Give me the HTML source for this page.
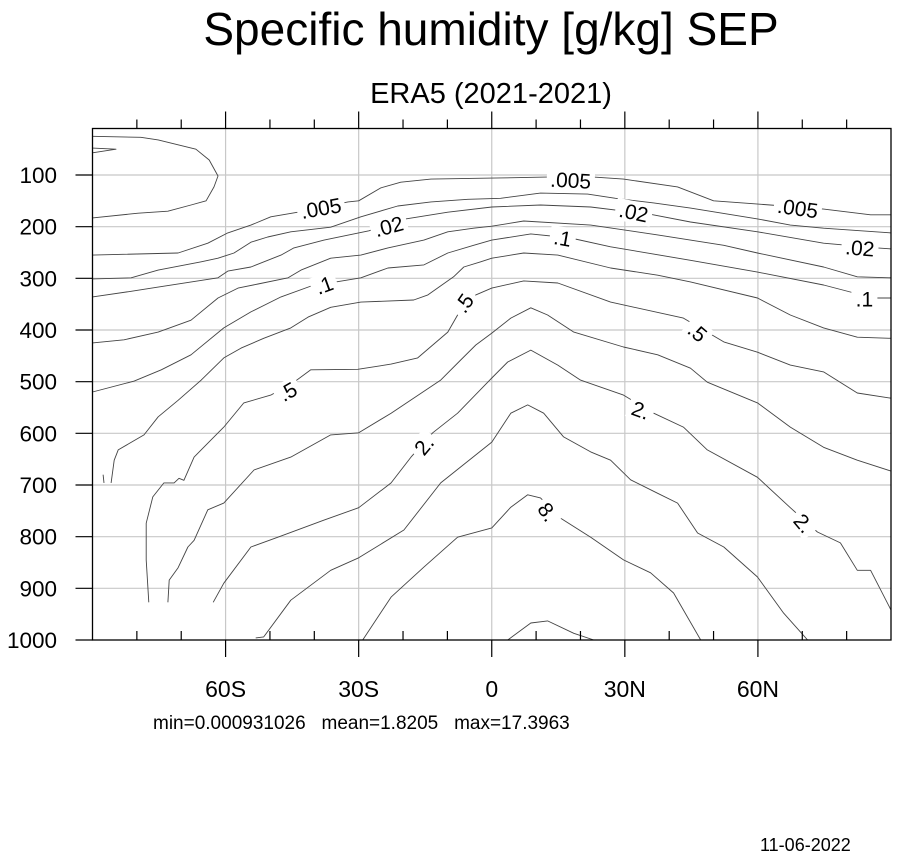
<!DOCTYPE html>
<html><head><meta charset="utf-8"><style>
html,body{margin:0;padding:0;background:#fff;}
svg{display:block;font-family:"Liberation Sans",Arial,sans-serif;}
</style></head><body>
<svg id="chart" width="901" height="861" viewBox="0 0 901 861" xmlns="http://www.w3.org/2000/svg">
<rect x="0" y="0" width="901" height="861" fill="#fff"/>
<text x="491" y="45" font-size="46" text-anchor="middle" fill="#000">Specific humidity [g/kg] SEP</text>
<text x="491" y="103" font-size="29" text-anchor="middle" fill="#000">ERA5 (2021-2021)</text>
<g id="grid"></g>
<g id="contours"></g>
<g id="labels"></g>
<g id="axes"></g>
<text x="153" y="729" font-size="19" fill="#000" style="white-space:pre" xml:space="preserve">min=0.000931026   mean=1.8205   max=17.3963</text>
<text x="760" y="851" font-size="18" fill="#000">11-06-2022</text>
</svg>
<script>
// ---- data (lat in degrees, pressure in hPa) ----
const xTickVals = [-60, -30, 0, 30, 60];
const xTickLabels = ["60S", "30S", "0", "30N", "60N"];
const yTickVals = [100, 200, 300, 400, 500, 600, 700, 800, 900, 1000];
const yTickLabels = ["100", "200", "300", "400", "500", "600", "700", "800", "900", "1000"];

const cClosedLat = [-90,-79.1,-75.2,-66.7,-63.7,-61.7,-62.6,-64.4,-67.8,-73,-79.7,-90];
const cClosedP   = [25,27,32,50,71,102,123,150,158,170,174,183];
const cSpikeLat = [-90,-84.7,-90];
const cSpikeP   = [48,50,57];
const cStubLat = [-87.6,-87.4];
const cStubP   = [680,696];

const c005Lat = [-90,-70.7,-64,-59.5,-54.3,-49.8,-43.7,-32.4,-30,-25,-20.5,-13.7,0,12.2,23,29.7,41.9,50,62.8,74.8,85.4,90];
const c005P   = [255,251,232,212,197,181,172,152,150,125,114,108,106,104,104,108,123,150,158,166,177,177];

const c01Lat = [-90,-81.3,-75.2,-65.5,-61.7,-58.1,-54.3,-50.5,-45.3,-36.3,-29.5,-21.2,-13.7,-5.4,2,11,21.6,27.9,36.5,44.8,59.9,67.3,74.8,90];
const c01P   = [301,299,284,268,261,251,230,220,210,201,181,160,152,147,145,135,137,145,154,164,185,197,203,212];

const c02Lat = [-90,-81.3,-75.2,-61.7,-59.5,-54.3,-47.5,-44.6,-37.8,-27.7,-19.4,-9.9,0,11,22.3,35.8,44.8,59.9,74.8,86.9,90];
const c02P   = [336,325,317,299,286,278,255,241,226,208,185,172,162,158,162,176,191,210,232,241,243];

const c05Lat = [-90,-82.9,-75.2,-67.8,-61.7,-57.2,-52.7,-45.9,-43,-36.3,-29.5,-23.4,-15.3,-9.9,-4.1,0,7.2,22.3,37.4,52.3,59.9,74.8,82.4,90];
const c05P   = [425,419,404,381,338,319,311,299,284,261,255,241,226,210,203,199,189,197,216,236,251,278,297,299];

const c1Lat = [-90,-80.6,-74.5,-67.8,-60.4,-54.3,-47.5,-40.1,-35.1,-29.5,-23.4,-15.3,-9.9,-4.1,0,8.8,17.8,26.8,44.8,59.9,74.8,86,90];
const c1P   = [520,499,477,448,396,365,336,313,307,299,280,274,251,236,226,214,222,239,265,288,313,338,338];

const c2Lat = [-85.8,-85.1,-84.2,-78.4,-75.2,-70.7,-65.5,-60.4,-56.5,-51.4,-45.3,-41.4,-36.3,-29.5,-17.6,-14.4,-8.6,-6.3,-2.5,0,7.2,14.9,26.8,37.4,44.8,59.9,67.3,74.8,82.4,90];
const c2P   = [696,652,632,603,568,536,497,454,435,416,396,375,356,346,342,332,297,278,268,261,251,255,280,294,307,338,371,396,414,416];

const c5Lat = [-77.3,-77.9,-77.9,-76.4,-73.9,-71.6,-70.5,-69.4,-67.1,-63.3,-60.4,-55.9,-49.8,-44.6,-40.8,-30.2,-22.7,-16.7,-9.9,-7.7,-3.6,0,7.2,14.9,26.8,43.2,52.3,59.9,67.3,74.8,82.4,90];
const c5P   = [927,845,774,723,696,696,687,691,646,613,588,541,526,501,477,476,466,454,404,371,332,319,305,309,346,377,423,443,468,481,522,532];

const c10Lat = [-73,-72.7,-70.7,-68.5,-67.1,-64,-60.4,-53.6,-45.3,-36.3,-30,-22.7,-11.5,-7,-3.6,0,4.3,8.8,12.6,18.5,29.7,37.4,44.8,48.6,59.9,67.3,74.8,82.4,90];
const c10P   = [927,884,860,820,807,748,735,671,646,603,599,561,497,458,429,406,377,357,371,404,433,448,474,501,541,588,627,652,673];

const c20Lat = [-62.8,-60.4,-54.3,-48.2,-37.8,-30,-22.7,-18.2,-13.3,-7.7,0,3.6,8.8,14.9,20,29.7,36.5,43.2,48.6,59.9,67.3,73.4,78.6,82.4,85.4,90];
const c20P   = [927,890,820,801,768,744,696,646,599,561,493,462,439,468,497,526,561,588,632,685,744,791,812,865,865,942];

const c40Lat = [-53.2,-51.4,-45.3,-36.3,-30,-19.8,-11.5,0,4.3,8.1,11.7,16.2,22.3,26.8,31.3,37.4,41.9,46.4,52.3,59.9,65.8,71.2];
const c40P   = [996,994,923,865,841,787,696,617,561,545,561,607,636,652,690,716,735,793,820,878,948,1000];

const c80Lat = [-29.1,-22.7,-15.3,-7.7,0,4.3,8.1,11,15.5,22.3,29.7,35.8,41,47.1];
const c80P   = [1000,917,859,801,783,743,719,725,764,801,845,870,909,1000];

const c160Lat = [3.6,8.8,12.6,18.5,23];
const c160P   = [1000,967,963,987,1000];

const labelText = [".005",".02",".1",".5",".5","2.",".005",".02",".1",".005",".02",".1",".5","2.","8.","2."];
const labelLat  = [-38.5,-23.2,-37.8,-46,-6.3,-15.3,17.8,32,16,69,83,84,46.4,33.6,12.6,70.3];
const labelP    = [164,199,313,519,348,623,110,172,222,164,241,340,404,555,752,774];
const labelAngle= [-10,-15,-20,-30,-55,-50,3,12,10,8,5,0,40,20,55,50];

// ---- axes functions ----
const X0 = 92.5, X1 = 891, Y0 = 128.5, Y1 = 640;
const LAT0 = -90, LAT1 = 90, P0 = 10, P1 = 1000;
function xScale(lat){ return X0 + (lat - LAT0) / (LAT1 - LAT0) * (X1 - X0); }
function yScale(p){ return Y0 + (p - P0) / (P1 - P0) * (Y1 - Y0); }

const NS = "http://www.w3.org/2000/svg";
function mk(tag, attrs, parent){
  const e = document.createElementNS(NS, tag);
  for (const k in attrs) e.setAttribute(k, attrs[k]);
  parent.appendChild(e);
  return e;
}

// grid
const grid = document.getElementById("grid");
xTickVals.forEach(v => {
  const l = mk("line", {x1: xScale(v), x2: xScale(v), y1: Y0, y2: Y1, stroke: "#c8c8c8", "stroke-width": 1.2}, grid);
  
  
});
yTickVals.forEach(v => {
  if (v >= 1000) return;
  const l = mk("line", {x1: X0, x2: X1, y1: yScale(v), y2: yScale(v), stroke: "#c8c8c8", "stroke-width": 1.2}, grid);
  
  
});

// contours
const contours = document.getElementById("contours");
const series = [
  ["contour-closed-min", cClosedLat, cClosedP],
  ["contour-spike", cSpikeLat, cSpikeP],
  ["contour-stub", cStubLat, cStubP],
  ["contour-0.005", c005Lat, c005P],
  ["contour-0.01", c01Lat, c01P],
  ["contour-0.02", c02Lat, c02P],
  ["contour-0.05", c05Lat, c05P],
  ["contour-0.1", c1Lat, c1P],
  ["contour-0.2", c2Lat, c2P],
  ["contour-0.5", c5Lat, c5P],
  ["contour-1", c10Lat, c10P],
  ["contour-2", c20Lat, c20P],
  ["contour-4", c40Lat, c40P],
  ["contour-8", c80Lat, c80P],
  ["contour-16", c160Lat, c160P]
];
series.forEach(s => {
  const lat = s[1], p = s[2];
  const pts = lat.map((v, i) => xScale(v).toFixed(1) + "," + yScale(p[i]).toFixed(1)).join(" ");
  const pl = mk("polyline", {points: pts, fill: "none", stroke: "#444", "stroke-width": 0.9, "stroke-linejoin": "round"}, contours);
  
  
});

// contour labels
const labels = document.getElementById("labels");
labelText.forEach((t, i) => {
  const x = xScale(labelLat[i]), y = yScale(labelP[i]);
  const g = mk("g", {transform: "translate(" + x.toFixed(1) + "," + y.toFixed(1) + ") rotate(" + labelAngle[i] + ")"}, labels);
  
  
  const w = t.length * 11 + 4;
  const r = mk("rect", {x: -w / 2, y: -11, width: w, height: 22, fill: "#fff"}, g);
  
  
  const tx = mk("text", {x: 0, y: 7.5, "font-size": 21, "text-anchor": "middle", fill: "#000"}, g);
  
  
  tx.textContent = t;
});

// axes
const axes = document.getElementById("axes");
const frame = mk("rect", {x: X0, y: Y0, width: X1 - X0, height: Y1 - Y0, fill: "none", stroke: "#000", "stroke-width": 1.3}, axes);


for (let lat = -80; lat <= 80; lat += 10) {
  const major = lat % 30 === 0;
  const tt = mk("line", {x1: xScale(lat), x2: xScale(lat), y1: Y0, y2: Y0 - (major ? 17 : 9), stroke: "#000", "stroke-width": 1.2}, axes);
  
  
  const bt = mk("line", {x1: xScale(lat), x2: xScale(lat), y1: Y1, y2: major ? Y1 + 17 : Y1 - 9, stroke: "#000", "stroke-width": 1.2}, axes);
  
  
}
xTickVals.forEach((v, i) => {
  const t = mk("text", {x: xScale(v), y: 697, "font-size": 23, "text-anchor": "middle", fill: "#000"}, axes);
  
  
  t.textContent = xTickLabels[i];
});
yTickVals.forEach((v, i) => {
  const y = yScale(v);
  const tk = mk("line", {x1: X0, x2: X0 - 17, y1: y, y2: y, stroke: "#000", "stroke-width": 1.2}, axes);
  
  
  const t = mk("text", {x: 57, y: y + 8, "font-size": 22.5, "text-anchor": "end", fill: "#000"}, axes);
  
  
  t.textContent = yTickLabels[i];
});
</script>
</body></html>
